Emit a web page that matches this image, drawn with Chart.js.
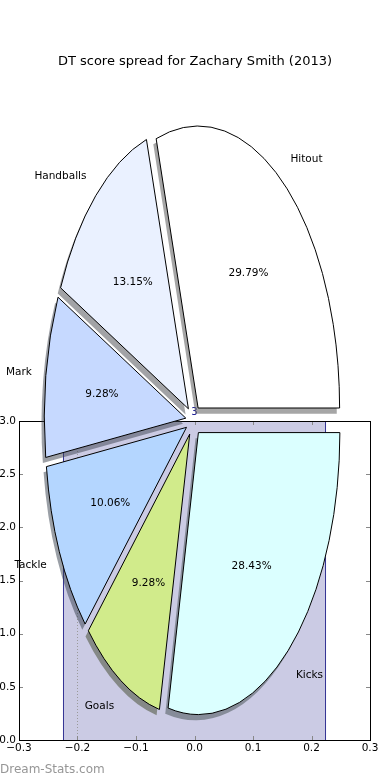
<!DOCTYPE html>
<html>
<head>
<meta charset="utf-8">
<script src="https://cdn.jsdelivr.net/npm/chart.js@4.4.1/dist/chart.umd.min.js"></script>
<style>
  html, body { margin: 0; padding: 0; background: #fff; }
  #wrap { position: relative; width: 390px; height: 780px; overflow: hidden; font-family: "DejaVu Sans", sans-serif; }
  canvas { position: absolute; left: 0; top: 0; }
  #title { position: absolute; left: 0; width: 390px; top: 52px; line-height: 18px; text-align: center; font-size: 13px; color: #000; }
  #mark { position: absolute; left: 0; top: 761px; line-height: 16px; font-size: 12px; color: #969696; }
</style>
</head>
<body>
<div id="wrap">
  <canvas id="bar" width="390" height="780"></canvas>
  <canvas id="pie" width="390" height="780"></canvas>
  <div id="title">DT score spread for Zachary Smith (2013)</div>
  <div id="mark">Dream-Stats.com</div>
</div>
<script>
// ---- data ----
const categories = ['Hitout', 'Handballs', 'Mark', 'Tackle', 'Goals', 'Kicks'];
const percents = [29.79, 13.15, 9.28, 10.06, 9.28, 28.43];
const sliceColors = ['#ffffff', '#eaf1ff', '#c6d9ff', '#b4d6ff', '#d1eb8b', '#dbffff'];
const explodeFrac = 0.055;

const barX = [0];
const barHeights = [3];
const barWidth = 0.45;
const barLabels = ['3'];
const dottedLineX = [-0.2, -0.2];
const dottedLineY = [0, 3];
const xTickValues = [-0.3, -0.2, -0.1, 0.0, 0.1, 0.2, 0.3];
const yTickValues = [0.0, 0.5, 1.0, 1.5, 2.0, 2.5, 3.0];

const FONT = '"DejaVu Sans", sans-serif';
const xStep = xTickValues[1] - xTickValues[0];

// ---- bar axes ----
const frameTicks = {
  id: 'frameTicks',
  afterDraw(chart) {
    const ctx = chart.ctx;
    const { left, right, top, bottom } = chart.chartArea;
    const xs = chart.scales.x, ys = chart.scales.y;
    ctx.save();
    ctx.strokeStyle = '#888';
    ctx.lineWidth = 1;
    ctx.beginPath();
    xTickValues.forEach(v => {
      const px = Math.round(xs.getPixelForValue(v)) + 0.5;
      ctx.moveTo(px, bottom); ctx.lineTo(px, bottom - 4);
      ctx.moveTo(px, top); ctx.lineTo(px, top + 4);
    });
    yTickValues.forEach(v => {
      const py = Math.round(ys.getPixelForValue(v)) + 0.5;
      ctx.moveTo(left, py); ctx.lineTo(left + 4, py);
      ctx.moveTo(right, py); ctx.lineTo(right - 4, py);
    });
    ctx.stroke();
    ctx.strokeStyle = '#000';
    ctx.strokeRect(Math.round(left) + 0.5, Math.round(top) + 0.5, Math.round(right - left), Math.round(bottom - top));
    // bar value label
    ctx.fillStyle = '#22229a';
    ctx.font = '10px ' + FONT;
    ctx.textAlign = 'center';
    ctx.textBaseline = 'alphabetic';
    barX.forEach((x, i) => {
      ctx.fillText(barLabels[i], xs.getPixelForValue(x), ys.getPixelForValue(barHeights[i]) - 6.5);
    });
    ctx.restore();
  }
};

const fmtX = v => {
  const r = Math.round(v * 10) / 10;
  return (r < 0 ? '\u2212' : '') + Math.abs(r).toFixed(1);
};

new Chart(document.getElementById('bar'), {
  type: 'bar',
  data: {
    datasets: [
      {
        type: 'bar',
        data: barX.map((x, i) => ({ x: x, y: barHeights[i] })),
        backgroundColor: '#cbcbe4',
        borderColor: '#00007a',
        borderWidth: 1,
        barPercentage: barWidth / xStep,
        categoryPercentage: 1,
        order: 2
      },
      {
        type: 'line',
        data: dottedLineX.map((x, i) => ({ x: x, y: dottedLineY[i] })),
        borderColor: '#9a9a9a',
        borderWidth: 1,
        borderDash: [1, 2],
        pointRadius: 0,
        fill: false,
        order: 1
      }
    ]
  },
  options: {
    responsive: false,
    animation: false,
    events: [],
    layout: { padding: { top: 421, right: 20, left: 0, bottom: 0 } },
    scales: {
      x: {
        type: 'linear', min: -0.3, max: 0.3, offset: false,
        afterBuildTicks: s => { s.ticks = xTickValues.map(v => ({ value: v })); },
        afterFit: s => { s.height = 40; },
        ticks: { callback: fmtX, font: { family: FONT, size: 10.5 }, color: '#000', padding: 2, maxRotation: 0, autoSkip: false },
        grid: { display: false, drawTicks: false, tickLength: 0 },
        border: { display: false }
      },
      y: {
        type: 'linear', min: 0, max: 3, offset: false,
        afterBuildTicks: s => { s.ticks = yTickValues.map(v => ({ value: v })); },
        afterFit: s => { s.width = 19; },
        ticks: { callback: v => v.toFixed(1), font: { family: FONT, size: 10.5 }, color: '#000', padding: 3, autoSkip: false },
        grid: { display: false, drawTicks: false, tickLength: 0 },
        border: { display: false }
      }
    },
    plugins: { legend: { display: false }, tooltip: { enabled: false } }
  },
  plugins: [frameTicks]
});

// ---- pie (matplotlib style: counter-clockwise from 3 o'clock, exploded, shadowed, stretched) ----
const RX = 141.5, RY = 282;
const order = categories.map((_, i) => categories.length - 1 - i); // reverse so clockwise draw == ccw
const pieNames = order.map(i => categories[i]);
const pieVals = order.map(i => percents[i]);
const pieCols = order.map(i => sliceColors[i]);
const shadowCols = pieCols.map(c => {
  const r = parseInt(c.slice(1, 3), 16), g = parseInt(c.slice(3, 5), 16), b = parseInt(c.slice(5, 7), 16);
  return `rgba(${Math.round(r * 0.3)},${Math.round(g * 0.3)},${Math.round(b * 0.3)},0.5)`;
});

const mplPie = {
  id: 'mplPie',
  beforeDatasetsDraw(chart) {
    const ctx = chart.ctx;
    const meta = chart.getDatasetMeta(0);
    const base = ctx.getTransform();
    const FAR = 4000;
    const k = RY / RX;
    const setup = arc => {
      const mid = (arc.startAngle + arc.endAngle) / 2;
      ctx.translate(arc.x, arc.y); ctx.scale(1, k); ctx.translate(-arc.x, -arc.y);
      ctx.translate(Math.cos(mid) * explodeFrac * arc.outerRadius, Math.sin(mid) * explodeFrac * arc.outerRadius);
    };
    // shadows (all below wedges)
    meta.data.forEach((arc, i) => {
      ctx.save();
      ctx.translate(FAR, 0);
      setup(arc);
      ctx.shadowColor = shadowCols[i];
      ctx.shadowBlur = 0;
      ctx.shadowOffsetX = -FAR - 0.02 * RX;
      ctx.shadowOffsetY = 0.02 * RY;
      arc.draw(ctx);
      ctx.restore();
    });
    // wedges with 1px outline
    meta.data.forEach(arc => {
      ctx.save();
      setup(arc);
      arc.draw(ctx);
      ctx.beginPath();
      ctx.moveTo(arc.x, arc.y);
      ctx.arc(arc.x, arc.y, arc.outerRadius, arc.startAngle, arc.endAngle);
      ctx.closePath();
      ctx.setTransform(base);
      ctx.lineWidth = 1;
      ctx.strokeStyle = '#000';
      ctx.lineJoin = 'miter';
      ctx.stroke();
      ctx.restore();
    });
    return false;
  },
  afterDraw(chart) {
    const ctx = chart.ctx;
    const meta = chart.getDatasetMeta(0);
    const dy = 1.5;
    ctx.save();
    ctx.fillStyle = '#000';
    ctx.font = '10.5px ' + FONT;
    ctx.textBaseline = 'middle';
    meta.data.forEach((arc, i) => {
      const mid = (arc.startAngle + arc.endAngle) / 2;
      const c = Math.cos(mid), s = Math.sin(mid);
      const rx = arc.outerRadius, ry = arc.outerRadius * RY / RX;
      const ex = arc.x + explodeFrac * rx * c, ey = arc.y + explodeFrac * ry * s;
      ctx.textAlign = c > 0 ? 'left' : 'right';
      ctx.fillText(pieNames[i], ex + 1.1 * rx * c, ey + 1.1 * ry * s + dy);
      ctx.textAlign = 'center';
      ctx.fillText(pieVals[i].toFixed(2) + '%', ex + 0.6 * rx * c, ey + 0.6 * ry * s + dy);
    });
    ctx.restore();
  }
};

new Chart(document.getElementById('pie'), {
  type: 'pie',
  data: {
    labels: pieNames,
    datasets: [{ data: pieVals, backgroundColor: pieCols, borderWidth: 0 }]
  },
  options: {
    responsive: false,
    animation: false,
    events: [],
    rotation: 90,
    radius: RX,
    layout: { padding: { left: 0, right: 3, top: 61, bottom: 0 } },
    plugins: { legend: { display: false }, tooltip: { enabled: false } }
  },
  plugins: [mplPie]
});
</script>
</body>
</html>
